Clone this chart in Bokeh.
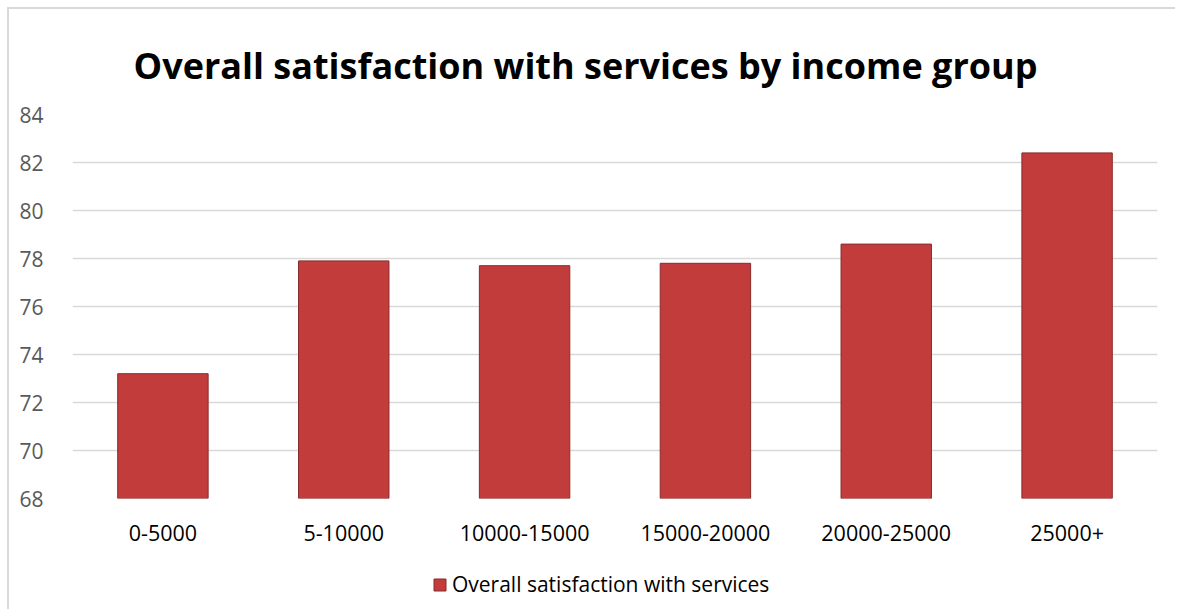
import numpy as np
from bokeh.plotting import figure
from bokeh.models import ColumnDataSource, Legend, LegendItem, Range1d, FixedTicker, Title
from bokeh.layouts import column
from bokeh.embed import file_html
from bokeh.resources import INLINE

categories = ["0-5000", "5-10000", "10000-15000", "15000-20000", "20000-25000", "25000+"]
values = [73.2, 77.9, 77.7, 77.8, 78.6, 82.4]
y_ticks = [68, 70, 72, 74, 76, 78, 80, 82, 84]
series_name = "Overall satisfaction with services"
title_text = "Overall satisfaction with services by income group"

BAR_FILL = "#c23c3c"
BAR_LINE = "#8a2a2a"
FONT = "Open Sans"

src = ColumnDataSource(dict(cat=categories, val=values))

p = figure(x_range=categories, y_range=Range1d(68, 84), width=1166, height=555,
           output_backend="svg", toolbar_location=None,
           min_border_left=63, min_border_right=18, min_border_top=105, min_border_bottom=66)

t = Title(text=title_text, align="left", text_font=FONT, text_font_style="bold",
          text_font_size="36px", text_color="#000000", offset=61, standoff=49)
p.add_layout(t, "above")

r = p.vbar(x="cat", top="val", bottom=68, width=0.5, source=src,
           fill_color=BAR_FILL, line_color=BAR_LINE, line_width=1)

p.outline_line_color = None
p.xgrid.grid_line_color = None
p.ygrid.grid_line_color = "#d9d9d9"
p.ygrid.grid_line_width = 1.5
p.yaxis.ticker = FixedTicker(ticks=y_ticks)
for ax in (p.xaxis, p.yaxis):
    ax.axis_line_color = None
    ax.major_tick_line_color = None
    ax.minor_tick_line_color = None
    ax.major_label_text_font = FONT
p.yaxis.major_label_text_font_size = "21px"
p.xaxis.major_label_text_font_size = "21.5px"
p.yaxis.major_label_text_color = "#595959"
p.xaxis.major_label_text_color = "#000000"
p.yaxis.major_label_standoff = 23
p.xaxis.major_label_standoff = 20

# legend strip below the chart (its renderer holds no visible data)
p2 = figure(width=1166, height=45, x_range=Range1d(0, 1), y_range=Range1d(0, 1),
            output_backend="svg", toolbar_location=None,
            min_border_left=0, min_border_right=0, min_border_top=0, min_border_bottom=0)
p2.axis.visible = False
p2.grid.visible = False
p2.outline_line_color = None
legend_src = ColumnDataSource(dict(x=np.array([np.nan]), top=np.array([np.nan])))
r2 = p2.vbar(x="x", top="top", width=0.1, source=legend_src,
             fill_color=BAR_FILL, line_color=BAR_LINE, line_width=1)
legend = Legend(items=[LegendItem(label=series_name, renderers=[r2], index=0)],
                orientation="horizontal", location=(360, 11),
                label_text_font=FONT, label_text_font_size="21px",
                label_text_color="#000000", glyph_width=15, glyph_height=15,
                border_line_color=None, background_fill_alpha=0, margin=0, padding=4,
                label_standoff=5)
p2.add_layout(legend, "center")

layout = column(p, p2, spacing=0,
                styles={"margin-left": "7px", "margin-top": "7px",
                        "border-top": "2px solid #d9d9d9", "border-left": "2px solid #d9d9d9"})

open("out.html", "w").write(file_html(layout, INLINE))
